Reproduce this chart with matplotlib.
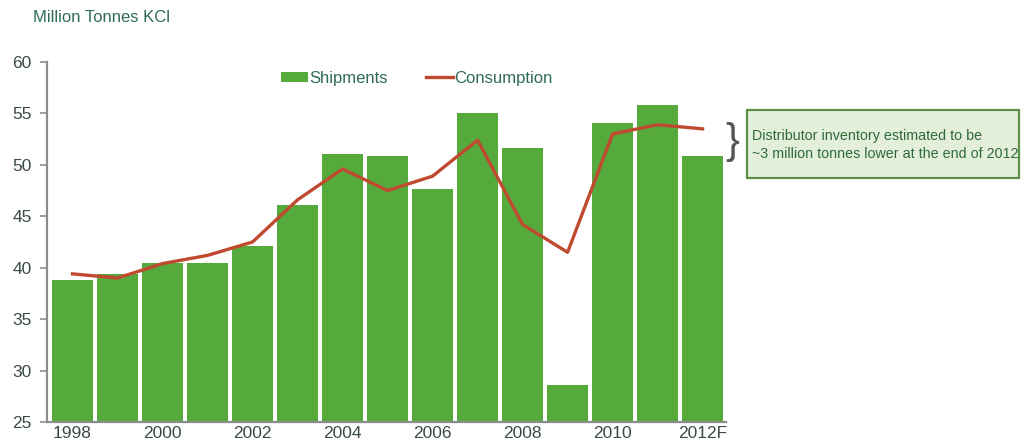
import matplotlib
matplotlib.use('Agg')
from matplotlib import pyplot as plt
from matplotlib.patches import Rectangle
import numpy as np

plt.rcParams['font.family'] = ['Liberation Sans', 'DejaVu Sans']

# Potash shipments vs consumption, million tonnes KCl
years = ['1998', '1999', '2000', '2001', '2002', '2003', '2004', '2005',
         '2006', '2007', '2008', '2009', '2010', '2011', '2012F']
shipments = [38.8, 39.4, 40.5, 40.5, 42.1, 46.1, 51.1, 50.9,
             47.7, 55.0, 51.6, 28.6, 54.1, 55.8, 50.9]
consumption = [39.4, 39.0, 40.4, 41.2, 42.5, 46.6, 49.6, 47.5,
               48.9, 52.4, 44.2, 41.5, 53.0, 53.9, 53.5]
tick_labels = ['1998', '', '2000', '', '2002', '', '2004', '', '2006', '',
               '2008', '', '2010', '', '2012F']
note = 'Distributor inventory estimated to be\n~3 million tonnes lower at the end of 2012'

green = '#55aa3b'
red = '#bf4a2f'
text_green = '#2f6b55'
axis_grey = '#8c8c8c'

W, H = 1022, 448
fig = plt.figure(figsize=(W / 100, H / 100), dpi=100)
ax = fig.add_axes([47 / W, 26 / H, 679 / W, 360 / H])

x = np.arange(len(years))
bars = ax.bar(x, [s - 25 for s in shipments], bottom=25, width=0.91,
              color=green, zorder=2)
line, = ax.plot(x, consumption, color=red, linewidth=2.4, zorder=3)

ax.set_xlim(-0.567, 14.52)
ax.set_ylim(25, 60)
ax.set_yticks(range(25, 61, 5))
ax.set_xticks(x)
ax.set_xticklabels(tick_labels)

for side in ['top', 'right']:
    ax.spines[side].set_visible(False)
for side in ['left', 'bottom']:
    ax.spines[side].set_color(axis_grey)
    ax.spines[side].set_linewidth(1.6)
ax.tick_params(axis='y', direction='out', length=5, width=1.2, color=axis_grey,
               labelsize=12.5, labelcolor='#3a4a44', pad=6)
ax.tick_params(axis='x', length=0, labelsize=12.5, labelcolor='#3a4a44', pad=3)

leg = ax.legend([bars, line], ['Shipments', 'Consumption'], loc='center',
                bbox_to_anchor=(0.545, 0.955), ncol=2, frameon=False,
                fontsize=12, handlelength=1.6, handleheight=0.6,
                handletextpad=0.1, columnspacing=2.3)
for t in leg.get_texts():
    t.set_color(text_green)

fig.text(33 / W, 1 - 18 / H, 'Million Tonnes KCl', fontsize=12,
         color=text_green, va='center', ha='left')

# bracket and note box to the right of the plot
fig.text(732 / W, 1 - 142 / H, '}', fontsize=30, color='#555555',
         va='center', ha='center', fontweight='light')
fig.patches.append(Rectangle((747 / W, 1 - 178 / H), 272 / W, 68 / H,
                             transform=fig.transFigure, facecolor='#e3efda',
                             edgecolor='#5e8f48', linewidth=1.6))
fig.text(752 / W, 1 - 145 / H, note, fontsize=10.3, color='#2e6b3a',
         va='center', ha='left', linespacing=1.3)

fig.savefig('out.png', dpi=100)
